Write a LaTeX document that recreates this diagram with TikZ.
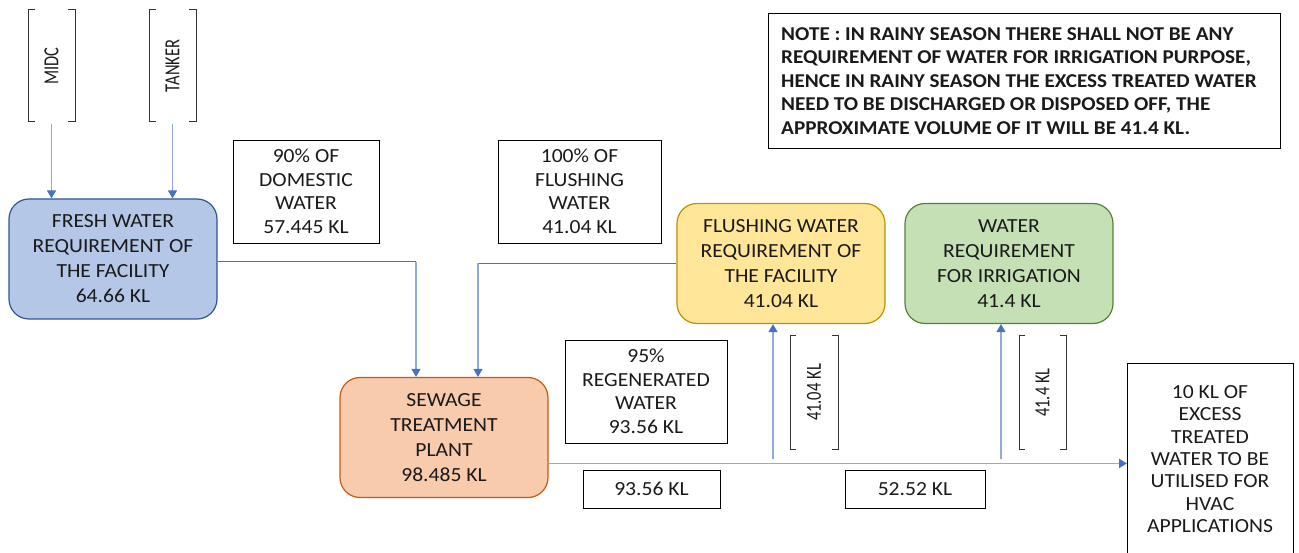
\documentclass[tikz,border=0pt]{standalone}
\usepackage{fontspec}
\setmainfont{Carlito}[FakeStretch=1.08]
\newfontfamily\rotfont{Carlito}
\usetikzlibrary{arrows.meta}
\definecolor{linkblue}{HTML}{4472C4}
\definecolor{lightlink}{HTML}{8FAADC}
\definecolor{freshfill}{HTML}{B4C7E7}
\definecolor{freshdraw}{HTML}{2F5597}
\definecolor{flushfill}{HTML}{FFE699}
\definecolor{flushdraw}{HTML}{BF9000}
\definecolor{irrfill}{HTML}{C5E0B4}
\definecolor{irrdraw}{HTML}{548235}
\definecolor{stpfill}{HTML}{F8CBAD}
\definecolor{stpdraw}{HTML}{C55A11}
\definecolor{txt}{HTML}{1A1A1A}
\begin{document}
\begin{tikzpicture}[x=1pt,y=-1pt,
  every node/.style={text=txt, font=\fontsize{20}{25}\selectfont, inner sep=0pt},
  procbox/.style={draw, line width=1.2pt, rounded corners=20pt, minimum width=208pt, minimum height=120pt, align=center},
  labelbox/.style={draw=black, line width=0.9pt, align=center},
  rotlabel/.style={rotate=90, yscale=1.3, anchor=center, font=\rotfont\fontsize{16.5}{20}\selectfont},
  arr/.style={draw=lightlink, line width=1.3pt, -{Triangle[width=9pt,length=8pt,color=linkblue]}},
  link/.style={draw=linkblue, line width=1pt},
  bracket/.style={draw=black!80, line width=1pt}
]
\useasboundingbox (0,0) rectangle (1299,553);
\clip (0,0) rectangle (1299,553);

% source brackets
\node[rotlabel] (midc) at (51.5,66) {MIDC};
\node[rotlabel] (tanker) at (172.5,66) {TANKER};
\coordinate (midcS) at (51.5,124);
\coordinate (tankS) at (172.5,124);
\foreach \xa/\xb in {28/75, 149/196}{
  \draw[bracket] (\xa+7,10) -- (\xa,10) -- (\xa,122) -- (\xa+7,122);
  \draw[bracket] (\xb-7,10) -- (\xb,10) -- (\xb,122) -- (\xb-7,122);
}

% process boxes
\node[procbox, fill=freshfill, draw=freshdraw] (fresh) at (113,259)
  {FRESH WATER\\REQUIREMENT OF\\THE FACILITY\\64.66 KL};
\node[procbox, fill=flushfill, draw=flushdraw] (flush) at (781,263.5)
  {FLUSHING WATER\\REQUIREMENT OF\\THE FACILITY\\41.04 KL};
\node[procbox, fill=irrfill, draw=irrdraw] (irr) at (1009,263.5)
  {WATER\\REQUIREMENT\\FOR IRRIGATION\\41.4 KL};
\node[procbox, fill=stpfill, draw=stpdraw] (stp) at (444,437.5)
  {SEWAGE\\TREATMENT\\PLANT\\98.485 KL};

% label boxes
\node[labelbox, minimum width=146pt, minimum height=103pt, font=\fontsize{20}{23.5}\selectfont] (dom) at (306,191.5)
  {90\% OF\\DOMESTIC\\WATER\\57.445 KL};
\node[labelbox, minimum width=163pt, minimum height=103pt, font=\fontsize{20}{23.5}\selectfont] (fl100) at (579.5,191.5)
  {100\% OF\\FLUSHING\\WATER\\41.04 KL};
\node[labelbox, minimum width=162pt, minimum height=103pt, font=\fontsize{20}{23.5}\selectfont] (regen) at (646,391.5)
  {95\%\\REGENERATED\\WATER\\93.56 KL};
\node[labelbox, minimum width=137pt, minimum height=38pt] (q1) at (651.5,489) {93.56 KL};
\node[labelbox, minimum width=140pt, minimum height=38pt] (q2) at (915,489) {52.52 KL};

% HVAC box (bottom edge off the page)
\node[draw=black, line width=0.9pt, minimum width=166pt, minimum height=200pt, anchor=north west] (hvac) at (1127,363) {};
\node[align=center, font=\fontsize{20}{22.4}\selectfont] (hvactext) at (1210,459)
  {10 KL OF\\EXCESS\\TREATED\\WATER TO BE\\UTILISED FOR\\HVAC\\APPLICATIONS};

% note
\node[draw=black, line width=0.9pt, minimum width=512pt, minimum height=135pt, anchor=north west] (notebox) at (768,13) {};
\node[align=left, anchor=west, font=\bfseries\fontsize{19.6}{23.6}\selectfont] (note) at (781,81)
  {NOTE : IN RAINY SEASON THERE SHALL NOT BE ANY\\REQUIREMENT OF WATER FOR IRRIGATION PURPOSE,\\HENCE IN RAINY SEASON THE EXCESS TREATED WATER\\NEED TO BE DISCHARGED OR DISPOSED OFF, THE\\APPROXIMATE VOLUME OF IT WILL BE 41.4 KL.};

% vertical quantity labels
\node[rotlabel] (v1) at (814,392.5) {41.04 KL};
\node[rotlabel] (v2) at (1042.5,392.5) {41.4 KL};
\foreach \xa/\xb in {790/838, 1019/1066}{
  \draw[bracket] (\xa+6,336) -- (\xa,336) -- (\xa,449) -- (\xa+6,449);
  \draw[bracket] (\xb-6,336) -- (\xb,336) -- (\xb,449) -- (\xb-6,449);
}

% connectors
\draw[arr] (midcS) -- (midcS |- fresh.north);
\draw[arr] (tankS) -- (tankS |- fresh.north);
\coordinate (stpin1) at ([xshift=-28pt]stp.north);
\coordinate (stpin2) at ([xshift=34pt]stp.north);
\draw[link] ([yshift=-3pt]fresh.east) -- ([yshift=-3pt]fresh.east -| stpin1);
\draw[arr] ([yshift=-3pt]fresh.east -| stpin1) -- (stpin1);
\draw[link] (flush.west) -- (flush.west -| stpin2);
\draw[arr] (flush.west -| stpin2) -- (stpin2);
\coordinate (j1) at (773,459);
\coordinate (j2) at (1001,459);
\draw[arr, line width=1.8pt] (stp.east |- hvac.west) -- (hvac.west);
\draw[arr] (j1) -- (j1 |- flush.south);
\draw[arr] (j2) -- (j2 |- irr.south);
\end{tikzpicture}
\end{document}
